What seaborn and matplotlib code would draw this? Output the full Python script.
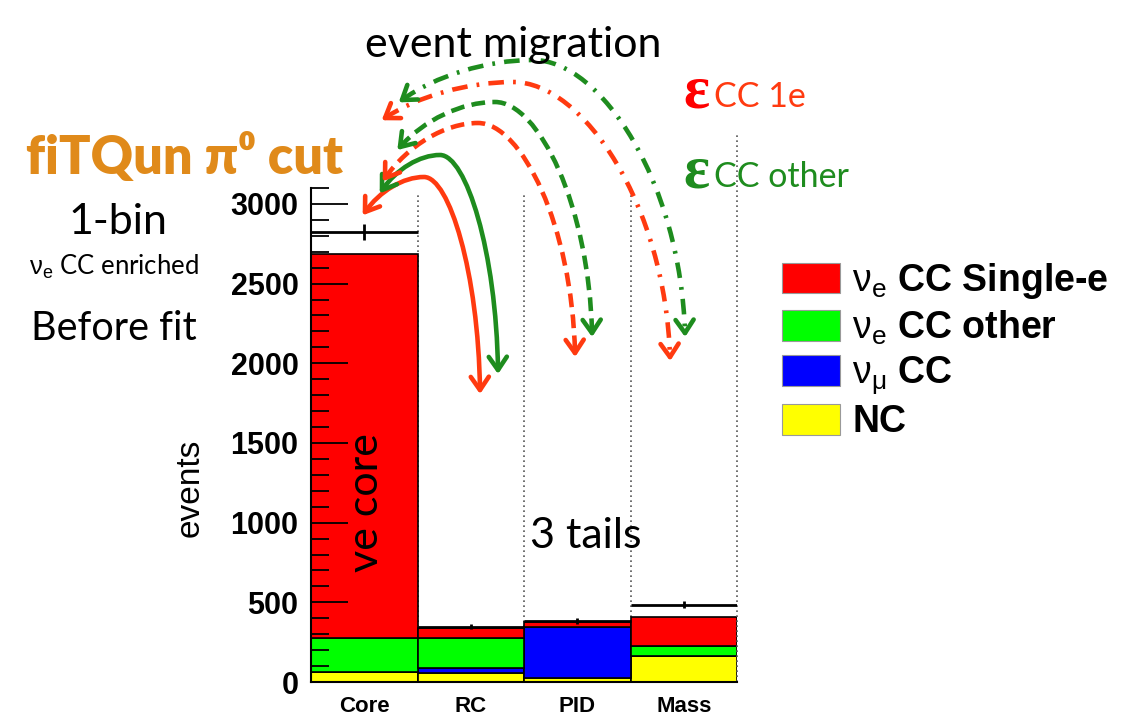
import numpy as np
import pandas as pd
import seaborn as sns
import matplotlib.pyplot as plt
from matplotlib.patches import Patch, PathPatch
from matplotlib.path import Path
from matplotlib.transforms import Affine2D
from matplotlib.ticker import MultipleLocator

sns.set_theme(style="white")
plt.rcParams.update({
    "font.family": ["Liberation Sans", "DejaVu Sans"],
    "mathtext.fontset": "custom",
    "mathtext.rm": "Liberation Sans",
    "mathtext.it": "Liberation Sans:italic",
    "mathtext.bf": "Liberation Sans:bold",
    "axes.linewidth": 1.5,
    "axes.edgecolor": "black",
    "text.color": "black",
    "axes.labelcolor": "black",
    "xtick.color": "black",
    "ytick.color": "black",
})

W, H = 1121, 717
RED = "#FF3A10"
GREEN = "#1E8C1E"

# ---- data (events per bin)
bins = ["Core", "RC", "PID", "Mass"]
single_e = [2409, 59, 31, 183]
cc_other = [214, 193, 0, 64]
numu_cc = [0, 31, 325, 0]
nc = [63, 55, 23, 164]
data_evt = [2824, 348, 384, 484]
data_err = [50, 18, 19, 22]

comp_names = [r"$\mathrm{\nu_e}$ CC Single-e", r"$\mathrm{\nu_e}$ CC other",
              r"$\mathrm{\nu_\mu}$ CC", "NC"]
comp_colors = ["#FF0000", "#00FF00", "#0000FF", "#FFFF00"]

rows = []
for name, vals in zip(comp_names, [single_e, cc_other, numu_cc, nc]):
    for i, v in enumerate(vals):
        rows.append({"bin": i, "component": name, "events": v})
df = pd.DataFrame(rows)

fig = plt.figure(figsize=(W / 100, H / 100), dpi=100)
ax = fig.add_axes([311 / W, 1 - 682 / H, 426 / W, 494 / H])
pix = Affine2D().scale(1 / W, -1 / H).translate(0, 1) + fig.transFigure

sns.histplot(data=df, x="bin", weights="events", hue="component",
             hue_order=comp_names, palette=comp_colors, multiple="stack",
             discrete=True, shrink=1, edgecolor="black", linewidth=1.2,
             alpha=1, legend=False, ax=ax)

ax.errorbar(range(len(bins)), data_evt, xerr=0.5, yerr=data_err, fmt="none",
            ecolor="black", elinewidth=2, capsize=0, zorder=5)

# bin boundaries (dotted)
for xb in [0.5, 1.5, 2.5]:
    ax.axvline(xb, ymax=0.99, color="#555555", lw=1.2, ls=(0, (1, 2)), zorder=0)
ax.plot([1, 1], [0, 1.111], transform=ax.transAxes, clip_on=False,
        color="#555555", lw=1.2, ls=(0, (1, 2)))

ax.set_axisbelow(False)
ax.set_xlim(-0.5, 3.5)
ax.set_ylim(0, 3100)
ax.set_xticks(range(len(bins)))
ax.set_xticklabels(bins, fontweight="bold", fontsize=16)
ax.tick_params(axis="x", length=0, pad=10)
ax.yaxis.set_major_locator(MultipleLocator(500))
ax.yaxis.set_minor_locator(MultipleLocator(100))
ax.tick_params(axis="y", which="major", direction="in", length=26.5, width=1.3,
               labelsize=22, pad=9, left=True)
ax.tick_params(axis="y", which="minor", direction="in", length=13, width=1.3, left=True)
for lab in ax.get_yticklabels():
    lab.set_fontweight("bold")
ax.spines["top"].set_visible(False)
ax.spines["right"].set_visible(False)
ax.set_xlabel("")
ax.set_ylabel("events", fontsize=24)
ax.yaxis.set_label_coords(-0.248, 0.394)

# legend
handles = [Patch(facecolor=c, edgecolor="#999999", lw=0.8) for c in comp_colors]
fig.legend(handles, comp_names, loc="upper left", bbox_to_anchor=(782 / W, 1 - 261 / H),
           frameon=False, prop={"weight": "bold", "size": 27}, handlelength=1.55,
           handleheight=0.88, handletextpad=0.32, labelspacing=0.2, borderpad=0,
           borderaxespad=0)

# migration arrows: start, apex, end in figure pixels, colour, dash pattern
arrows = [
    ((365, 212), (424, 177), (480, 390), RED, "-"),
    ((382, 190), (440, 155), (498, 370), GREEN, "-"),
    ((385, 178), (478, 123), (575, 353), RED, (0, (3, 1.6))),
    ((400, 147), (495, 102), (592, 333), GREEN, (0, (3, 1.6))),
    ((385, 118), (513, 82), (670, 357), RED, (0, (3.4, 2, 0.6, 2))),
    ((402, 100), (533, 60), (685, 333), GREEN, (0, (3.4, 2, 0.6, 2))),
]


def head(tip, frm, color, size=16, spread=0.6):
    d = np.array(tip, float) - np.array(frm, float)
    d /= np.hypot(*d)
    for s in (spread, -spread):
        c, sn = np.cos(s), np.sin(s)
        r = np.array([c * d[0] - sn * d[1], sn * d[0] + c * d[1]])
        p = np.array(tip) - size * r
        fig.add_artist(plt.Line2D([tip[0], p[0]], [tip[1], p[1]], transform=pix,
                                  color=color, lw=3.3, solid_capstyle="round"))


for s, t, e, col, dash in arrows:
    s, t, e = np.array(s, float), np.array(t, float), np.array(e, float)
    c1 = (s[0] + 0.25 * (t[0] - s[0]), s[1] + 0.6 * (t[1] - s[1]))
    c2 = (t[0] - 0.35 * (t[0] - s[0]), t[1])
    c3 = (t[0] + 0.45 * (e[0] - t[0]), t[1])
    c4 = (e[0] - 0.03 * (e[0] - t[0]), t[1] + 0.45 * (e[1] - t[1]))
    verts = [tuple(s), c1, c2, tuple(t), c3, c4, tuple(e)]
    codes = [Path.MOVETO] + [Path.CURVE4] * 6
    fig.add_artist(PathPatch(Path(verts, codes), transform=pix, fill=False,
                             edgecolor=col, lw=3.3, linestyle=dash, capstyle="butt"))
    head(tuple(s), c1, col)
    head(tuple(e), c4, col)

# annotations
fam = ["Lato", "DejaVu Sans"]
fig.text(513, 45, "event migration", transform=pix, ha="center", va="center",
         fontsize=31, family=fam)
fig.text(184, 158, "fiTQun π⁰ cut", transform=pix, ha="center", va="center",
         fontsize=37.5, family=fam, fontweight="heavy", color="#E08A1A")
fig.text(118, 222, "1-bin", transform=pix, ha="center", va="center",
         fontsize=31, family=fam)
fig.text(114, 267, r"$\mathrm{\nu_e}$ CC enriched", transform=pix, ha="center",
         va="center", fontsize=18.5, family=fam)
fig.text(114, 328, "Before fit", transform=pix, ha="center", va="center",
         fontsize=28.5, family=fam)
fig.text(366, 503, "ve core", transform=pix, ha="center", va="center",
         fontsize=31, family=fam, rotation=90)
fig.text(586, 536, "3 tails", transform=pix, ha="center", va="center",
         fontsize=31, family=fam)

fig.text(683, 107, "ε", transform=pix, ha="left", va="baseline", fontsize=44,
         family="Liberation Serif", fontweight="bold", color="#FF0000")
fig.text(714, 107, "CC 1e", transform=pix, ha="left", va="baseline", fontsize=24.5,
         family=fam, color=RED)
fig.text(683, 187, "ε", transform=pix, ha="left", va="baseline", fontsize=44,
         family="Liberation Serif", fontweight="bold", color=GREEN)
fig.text(714, 187, "CC other", transform=pix, ha="left", va="baseline", fontsize=24.5,
         family=fam, color=GREEN)

fig.savefig("out.png", dpi=100)
